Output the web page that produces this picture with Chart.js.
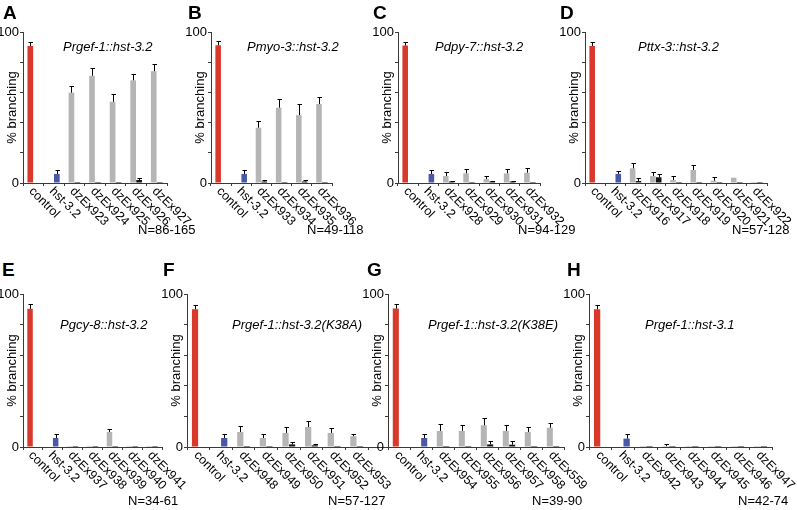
<!DOCTYPE html>
<html>
<head>
<meta charset="utf-8">
<script src="https://cdn.jsdelivr.net/npm/chart.js@4.4.1/dist/chart.umd.min.js"></script>
<style>
body{margin:0;background:#fff;font-family:"Liberation Sans",Arial,Helvetica,sans-serif}
#wrap{position:relative;width:797px;height:510px;overflow:hidden}
canvas{position:absolute}
.lt{position:absolute;font-weight:bold;font-size:19px;line-height:19px}
.tt{position:absolute;font-style:italic;font-size:13px;line-height:13px;white-space:nowrap}
.nn{position:absolute;font-size:13px;line-height:13px;white-space:nowrap}
</style>
</head>
<body>
<div id="wrap"></div>
<script>
// A  Prgef-1::hst-3.2
var labelsA = ["control","hst-3.2","dzEx923","dzEx924","dzEx925","dzEx926","dzEx927"];
var grayA   = [90.7, null, 59.8, 71, 53.8, 68, 74];
var grayErrA = [2.6, 0, 4.5, 5, 4.9, 4, 4.5];
var blackA  = [null, 6, 0, 0, 0, 2, 0];
var blackErrA = [0, 2.3, 0, 0, 0, 1.2, 0];

// B  Pmyo-3::hst-3.2
var labelsB = ["control","hst-3.2","dzEx933","dzEx934","dzEx935","dzEx936"];
var grayB   = [91.2, null, 36.6, 49.9, 45, 52.3];
var grayErrB = [2.6, 0, 4.7, 5.5, 7.3, 4.9];
var blackB  = [null, 6, 1, 0, 1, 0];
var blackErrB = [0, 2.6, 0.8, 0, 0.8, 0];

// C  Pdpy-7::hst-3.2
var labelsC = ["control","hst-3.2","dzEx928","dzEx929","dzEx930","dzEx931","dzEx932"];
var grayC   = [91, null, 4.6, 6.4, 2.6, 6.4, 6.8];
var grayErrC = [2.5, 0, 2.6, 2.6, 2, 2.6, 2.9];
var blackC  = [null, 6, 1, 0, 1, 1, 0];
var blackErrC = [0, 2.6, 0.6, 0, 0.6, 0.6, 0];

// D  Pttx-3::hst-3.2
var labelsD = ["control","hst-3.2","dzEx916","dzEx917","dzEx918","dzEx919","dzEx920","dzEx921","dzEx922"];
var grayD   = [90.7, null, 9.7, 4.6, 2, 8.6, 1.5, 3.5, 0];
var grayErrD = [2.6, 0, 3.3, 2.4, 2.4, 3.4, 2.5, 0, 0];
var blackD  = [null, 6, 1.3, 3.8, 0, 0, 0, 0, 0];
var blackErrD = [0, 2.2, 1.7, 2.2, 0, 0, 0, 0, 0];

// E  Pgcy-8::hst-3.2
var labelsE = ["control","hst-3.2","dzEx937","dzEx938","dzEx939","dzEx940","dzEx941"];
var grayE   = [90.3, null, 0, 0, 9.8, 0, 0];
var grayErrE = [3.1, 0, 0, 0, 2.2, 0, 0];
var blackE  = [null, 5.9, 0, 0, 0, 0, 0];
var blackErrE = [0, 2.9, 0, 0, 0, 0, 0];

// F  Prgef-1::hst-3.2(K38A)
var labelsF = ["control","hst-3.2","dzEx948","dzEx949","dzEx950","dzEx951","dzEx952","dzEx953"];
var grayF   = [90, null, 9.8, 5.9, 9.2, 13.1, 9.2, 7];
var grayErrF = [3, 0, 4, 2.4, 3.9, 3.7, 3.3, 1.8];
var blackF  = [null, 5.9, 0, 0, 1.7, 1.1, 0, 0];
var blackErrF = [0, 2.9, 0, 0, 1.6, 1.1, 0, 0];

// G  Prgef-1::hst-3.2(K38E)
var labelsG = ["control","hst-3.2","dzEx954","dzEx955","dzEx956","dzEx957","dzEx958","dzEx559"];
var grayG   = [90.5, null, 10.5, 10.5, 14.2, 10.5, 9.8, 12.6];
var grayErrG = [2.8, 0, 4.4, 4.2, 5, 3.7, 3.5, 3.1];
var blackG  = [null, 5.9, 0, 0, 1.7, 1.5, 0, 0];
var blackErrG = [0, 2.9, 0, 0, 2, 2.2, 0, 0];

// H  Prgef-1::hst-3.1
var labelsH = ["control","hst-3.2","dzEx942","dzEx943","dzEx944","dzEx945","dzEx946","dzEx947"];
var grayH   = [90, null, 0, 0.5, 0, 0, 0, 0];
var grayErrH = [3, 0, 0, 1.7, 0, 0, 0, 0];
var blackH  = [null, 5.5, 0, 0, 0, 0, 0, 0];
var blackErrH = [0, 2.8, 0, 0, 0, 0, 0, 0];

var FONT = '"Liberation Sans", Arial, Helvetica, sans-serif';
var RED = "#d8392b", BLUE = "#4a58a8", GRAY = "#b5b5b5", BLACK = "#141414", AXIS = "#3a3a3a";
Chart.defaults.font.family = FONT;

var wrap = document.getElementById("wrap");

function addText(cls, txt, x, y) {
    var d = document.createElement("div");
    d.className = cls;
    d.textContent = txt;
    d.style.left = x + "px";
    d.style.top = y + "px";
    wrap.appendChild(d);
}

// error bars, rotated labels, y title
var extras = {
    id: "extras",
    afterDatasetsDraw: function(chart) {
        var ctx = chart.ctx, ys = chart.scales.y;
        ctx.save();
        ctx.strokeStyle = "#000";
        ctx.lineWidth = 1;
        chart.data.datasets.forEach(function(ds, di) {
            var meta = chart.getDatasetMeta(di);
            meta.data.forEach(function(bar, i) {
                var v = ds.data[i], e = ds.err[i];
                if (v == null || !e) return;
                var x = Math.round(bar.x) + 0.5;
                var y0 = ys.getPixelForValue(v);
                var y1 = Math.round(ys.getPixelForValue(v + e)) + 0.5;
                ctx.beginPath();
                ctx.moveTo(x, y0);
                ctx.lineTo(x, y1);
                ctx.moveTo(x - 2, y1);
                ctx.lineTo(x + 2.5, y1);
                ctx.stroke();
            });
        });
        ctx.restore();
    },
    afterDraw: function(chart) {
        var ctx = chart.ctx, xs = chart.scales.x, a = chart.chartArea;
        var o = chart.options.plugins.extras;
        ctx.save();
        if (o.ext) {
            ctx.strokeStyle = AXIS;
            ctx.lineWidth = 1;
            ctx.beginPath();
            ctx.moveTo(a.right, Math.round(a.bottom) + 0.5);
            ctx.lineTo(a.right + o.ext, Math.round(a.bottom) + 0.5);
            ctx.stroke();
        }
        ctx.fillStyle = "#000";
        ctx.font = "12.5px " + FONT;
        ctx.textAlign = "left";
        ctx.textBaseline = "top";
        chart.data.labels.forEach(function(lab, i) {
            var x = xs.getPixelForValue(i);
            ctx.save();
            ctx.translate(x + 2, a.bottom + 2);
            ctx.rotate(Math.PI / 4);
            ctx.fillText(lab, 0, 0);
            ctx.restore();
        });
        ctx.font = "13px " + FONT;
        ctx.save();
        ctx.translate(a.left - 11, (a.top + a.bottom) / 2);
        ctx.rotate(-Math.PI / 2);
        ctx.textAlign = "center";
        ctx.textBaseline = "middle";
        ctx.fillText("% branching", 0, 0);
        ctx.restore();
        ctx.restore();
    }
};

function drawPanel(g, labels, gray, grayErr, black, blackErr) {
    var padL = 40, padT = 12, padR = 60, padB = 58;
    var cv = document.createElement("canvas");
    cv.width = g.R - g.L + padL + padR;
    cv.height = g.B - g.T + padT + padB;
    cv.style.left = (g.L - padL) + "px";
    cv.style.top = (g.T - padT) + "px";
    wrap.appendChild(cv);

    new Chart(cv, {
        type: "bar",
        data: {
            labels: labels,
            datasets: [{
                data: gray,
                err: grayErr,
                backgroundColor: function(c) { return c.dataIndex === 0 ? RED : GRAY; },
                minBarLength: 1,
                barPercentage: 0.95,
                categoryPercentage: 0.58
            }, {
                data: black,
                err: blackErr,
                backgroundColor: function(c) { return c.dataIndex === 1 ? BLUE : BLACK; },
                minBarLength: 1,
                barPercentage: 0.95,
                categoryPercentage: 0.58
            }]
        },
        options: {
            responsive: false,
            animation: false,
            layout: { padding: { left: 0, top: padT, right: padR, bottom: 0 } },
            plugins: {
                legend: { display: false },
                tooltip: { enabled: false },
                extras: { ext: g.ext || 0 }
            },
            scales: {
                x: {
                    offset: true,
                    ticks: { display: false },
                    grid: { offset: true, drawOnChartArea: false, tickLength: 3, color: AXIS },
                    border: { color: AXIS },
                    afterFit: function(s) { s.height = padB; }
                },
                y: {
                    min: 0,
                    max: 100,
                    ticks: {
                        stepSize: 10,
                        padding: 1,
                        color: "#000",
                        font: { size: 13 },
                        callback: function(v) { return (v === 0 || v === 100) ? v : ""; }
                    },
                    grid: { drawOnChartArea: false, tickLength: 3, color: AXIS },
                    border: { color: AXIS },
                    afterFit: function(s) { s.width = padL; }
                }
            }
        },
        plugins: [extras]
    });

    addText("lt", g.letter, g.lx, g.ly);
    addText("tt", g.title, g.tx, g.ty);
    addText("nn", g.n, g.nx, g.ny);
}

drawPanel({L:23, R:167, T:32, B:183, letter:"A", lx:3, ly:3, title:"Prgef-1::hst-3.2", tx:63, ty:40, n:"N=86-165", nx:138, ny:223}, labelsA, grayA, grayErrA, blackA, blackErrA);
drawPanel({L:211, R:332, T:32, B:183, letter:"B", lx:188, ly:3, title:"Pmyo-3::hst-3.2", tx:247, ty:40, n:"N=49-118", nx:307, ny:223}, labelsB, grayB, grayErrB, blackB, blackErrB);
drawPanel({L:398, R:540, T:32, B:183, letter:"C", lx:373, ly:3, title:"Pdpy-7::hst-3.2", tx:435, ty:40, n:"N=94-129", nx:518, ny:223}, labelsC, grayC, grayErrC, blackC, blackErrC);
drawPanel({L:585, R:767, T:32, B:183, letter:"D", lx:560, ly:3, title:"Pttx-3::hst-3.2", tx:638, ty:40, n:"N=57-128", nx:732, ny:223}, labelsD, grayD, grayErrD, blackD, blackErrD);
drawPanel({L:23, R:162, T:294, B:447, letter:"E", lx:2, ly:260, title:"Pgcy-8::hst-3.2", tx:60, ty:318, n:"N=34-61", nx:128, ny:494}, labelsE, grayE, grayErrE, blackE, blackErrE);
drawPanel({L:187, R:368, ext:19, T:294, B:447, letter:"F", lx:163, ly:260, title:"Prgef-1::hst-3.2(K38A)", tx:232, ty:318, n:"N=57-127", nx:328, ny:494}, labelsF, grayF, grayErrF, blackF, blackErrF);
drawPanel({L:388, R:564, T:294, B:447, letter:"G", lx:367, ly:260, title:"Prgef-1::hst-3.2(K38E)", tx:428, ty:318, n:"N=39-90", nx:532, ny:494}, labelsG, grayG, grayErrG, blackG, blackErrG);
drawPanel({L:589, R:772, T:294, B:447, letter:"H", lx:567, ly:260, title:"Prgef-1::hst-3.1", tx:645, ty:318, n:"N=42-74", nx:738, ny:494}, labelsH, grayH, grayErrH, blackH, blackErrH);
</script>
</body>
</html>
